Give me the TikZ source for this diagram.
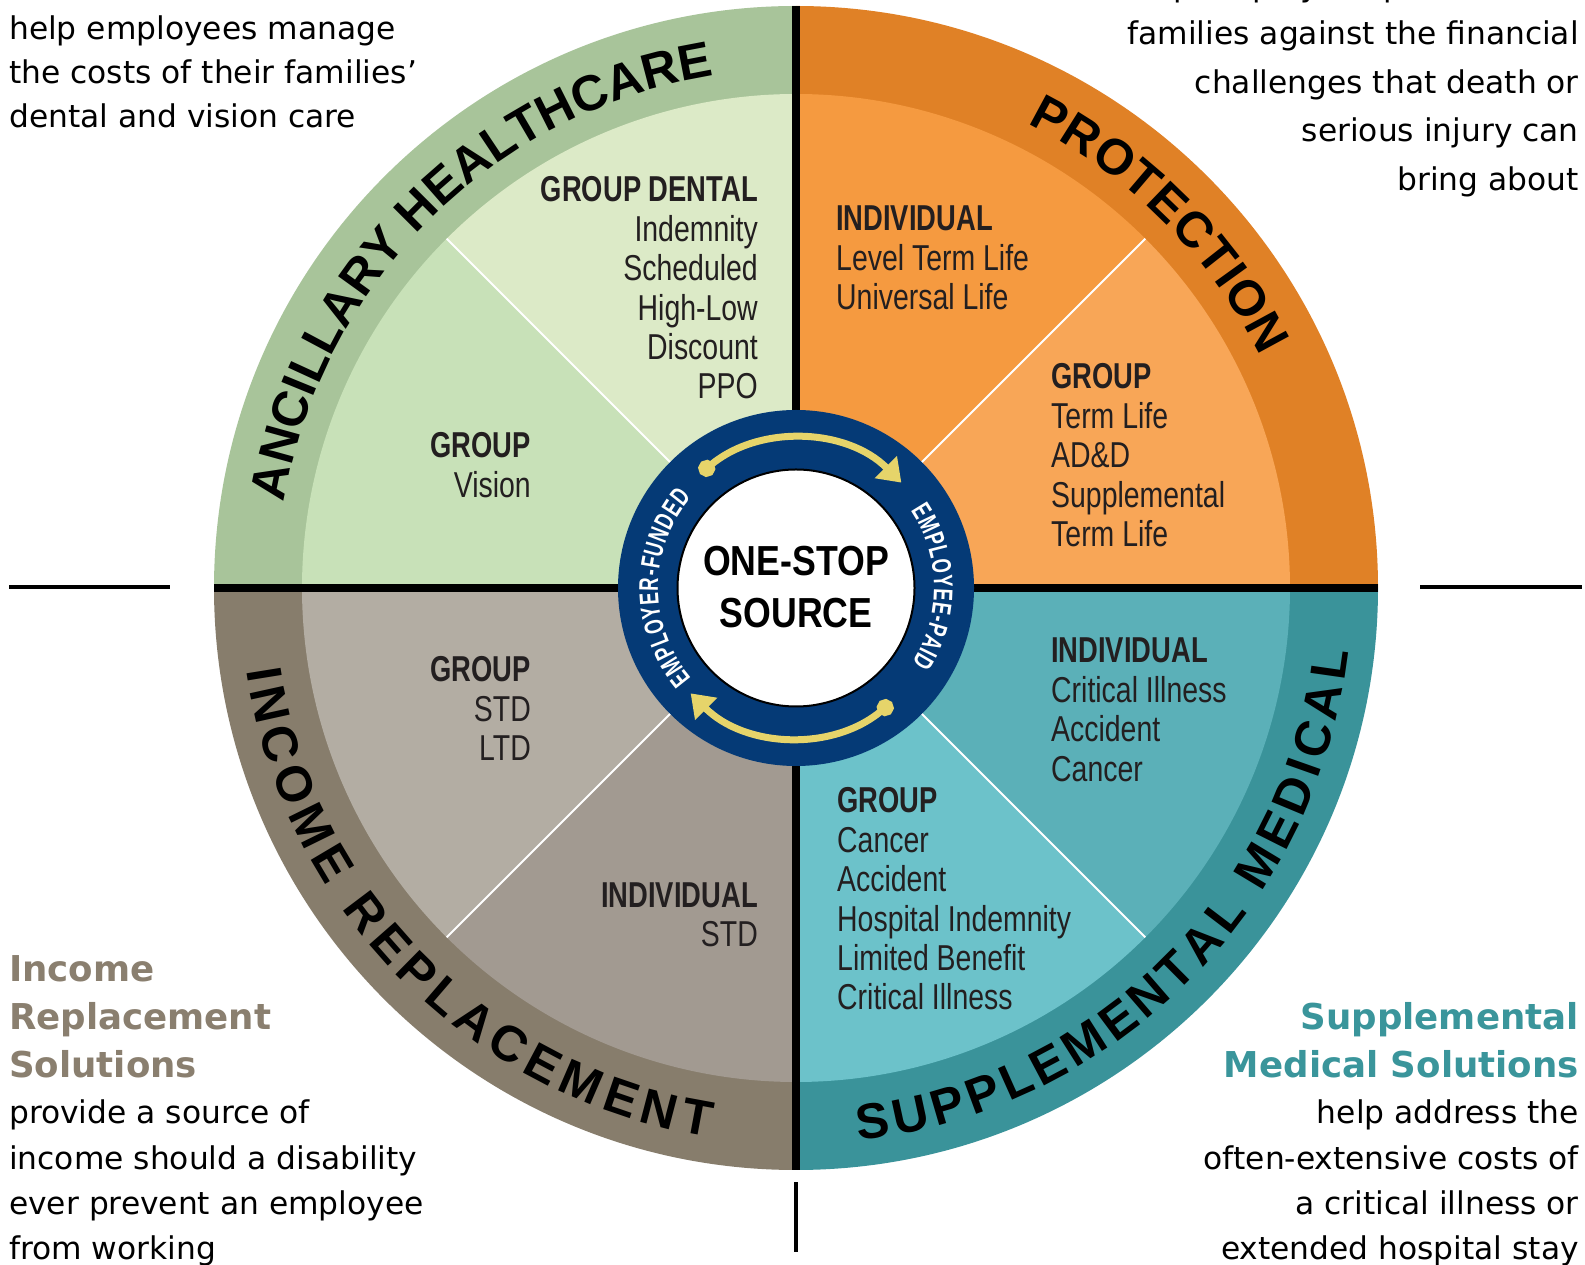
\documentclass[tikz,border=0pt]{standalone}
\usepackage{fontspec}
\setmainfont{DejaVu Sans}
\newfontfamily\bodyfont{DejaVu Sans}
\newfontfamily\condR[FakeStretch=0.79]{Liberation Sans}
\newfontfamily\condB[FakeStretch=0.76]{Liberation Sans}
\newfontfamily\hubfont[FakeStretch=0.85]{Liberation Sans}
\newfontfamily\ringfont[FakeStretch=0.68]{Liberation Sans}
\newfontfamily\bandfont{Liberation Sans}
\usetikzlibrary{decorations.text,arrows.meta}
\definecolor{ancB}{HTML}{A8C49A}
\definecolor{ancD}{HTML}{DCEAC7}
\definecolor{ancV}{HTML}{C8E1B8}
\definecolor{proB}{HTML}{E08126}
\definecolor{proI}{HTML}{F59A40}
\definecolor{proG}{HTML}{F8A657}
\definecolor{supB}{HTML}{3A939A}
\definecolor{supI}{HTML}{5BB0B8}
\definecolor{supG}{HTML}{6CC2CA}
\definecolor{incB}{HTML}{877D6C}
\definecolor{incG}{HTML}{B3ADA3}
\definecolor{incI}{HTML}{A29A91}
\definecolor{navy}{HTML}{053A76}
\definecolor{gold}{HTML}{E6D46A}
\definecolor{txt}{HTML}{231F20}
\definecolor{tealh}{HTML}{3A959B}
\definecolor{taupeh}{HTML}{8A7F6F}
\begin{document}
\begin{tikzpicture}[x=1pt,y=1pt,
  hd/.style={inner sep=0pt,text=txt,font=\condB\bfseries\fontsize{36}{39}\selectfont},
  it/.style={inner sep=0pt,text=txt,font=\condR\fontsize{36}{39}\selectfont},
  body/.style={inner sep=0pt,text=black,font=\bodyfont\fontsize{31.3}{44}\selectfont},
  headT/.style={inner sep=0pt,text=taupeh,font=\bodyfont\bfseries\fontsize{35.6}{48}\selectfont},
  headS/.style={inner sep=0pt,text=tealh,font=\bodyfont\bfseries\fontsize{35.6}{48}\selectfont},
  cross/.style={line width=8pt,black},
  tick/.style={line width=4.5pt,black},
  divider/.style={line width=2pt,white},
  yarrow/.style={gold,line width=7pt,{Circle[length=17pt]}-{Triangle[length=22pt,width=30pt]}},
  bandtext/.style={decorate,decoration={text along path,text align={fit to path},
     text={|\bandfont\bfseries\fontsize{50}{50}\selectfont|#1}}},
  ringtext/.style={decorate,decoration={text along path,text align={fit to path},text color=white,
     text={|\ringfont\bfseries\fontsize{27}{27}\selectfont|#1}}}
]
\useasboundingbox (0,0) rectangle (1585,1264);
\fill[white] (0,0) rectangle (1585,1264);
\coordinate (C) at (796,676);
% quadrant bands
\fill[ancB] (C) -- ([shift={(796,676)}]90:582pt) arc[start angle=90,end angle=180,radius=582pt] -- cycle;
\fill[proB] (C) -- ([shift={(796,676)}]0:582pt) arc[start angle=0,end angle=90,radius=582pt] -- cycle;
\fill[supB] (C) -- ([shift={(796,676)}]270:582pt) arc[start angle=270,end angle=360,radius=582pt] -- cycle;
\fill[incB] (C) -- ([shift={(796,676)}]180:582pt) arc[start angle=180,end angle=270,radius=582pt] -- cycle;
% sub sectors
\fill[ancD] (C) -- ([shift={(796,676)}]90:494pt) arc[start angle=90,end angle=135,radius=494pt] -- cycle;
\fill[ancV] (C) -- ([shift={(796,676)}]135:494pt) arc[start angle=135,end angle=180,radius=494pt] -- cycle;
\fill[proG] (C) -- ([shift={(796,676)}]0:494pt) arc[start angle=0,end angle=45,radius=494pt] -- cycle;
\fill[proI] (C) -- ([shift={(796,676)}]45:494pt) arc[start angle=45,end angle=90,radius=494pt] -- cycle;
\fill[incG] (C) -- ([shift={(796,676)}]180:494pt) arc[start angle=180,end angle=225,radius=494pt] -- cycle;
\fill[incI] (C) -- ([shift={(796,676)}]225:494pt) arc[start angle=225,end angle=270,radius=494pt] -- cycle;
\fill[supG] (C) -- ([shift={(796,676)}]270:494pt) arc[start angle=270,end angle=315,radius=494pt] -- cycle;
\fill[supI] (C) -- ([shift={(796,676)}]315:494pt) arc[start angle=315,end angle=360,radius=494pt] -- cycle;
% white dividers
\foreach \a in {45,135,225,315}
  \draw[divider] ([shift={(796,676)}]\a:170pt) -- ([shift={(796,676)}]\a:494pt);
% black cross
\draw[cross] (214,676) -- (1378,676);
\draw[cross] (796,94) -- (796,1258);
\coordinate (lt1) at (9,677); \coordinate (lt2) at (170,677);
\coordinate (rt1) at (1420,677); \coordinate (rt2) at (1582,677);
\coordinate (bt1) at (796,82); \coordinate (bt2) at (796,12);
\draw[tick] (lt1) -- (lt2);
\draw[tick] (rt1) -- (rt2);
\draw[tick] (bt1) -- (bt2);
% centre
\fill[navy] (C) circle[radius=178pt];
\draw[fill=white,line width=2pt] (C) circle[radius=118.5pt];
\draw[yarrow] ([shift={(796,676)}]130:149pt) arc[start angle=130,end angle=45,radius=149pt];
\draw[yarrow] ([shift={(796,676)}]310:149pt) arc[start angle=310,end angle=225,radius=149pt];
\path[ringtext={EMPLOYER-FUNDED}] ([shift={(796,676)}]221:138pt) arc[start angle=221,end angle=139,radius=138pt];
\path[ringtext={EMPLOYEE-PAID}] ([shift={(796,676)}]34:138pt) arc[start angle=34,end angle=-33,radius=138pt];
\node[inner sep=0pt,align=center,font=\hubfont\bfseries\fontsize{42}{52}\selectfont] (hub) at (796,677) {ONE-STOP\\SOURCE};
% band labels
\path[bandtext={ANCILLARY HEALTHCARE}] ([shift={(796,676)}]170.5:519pt) arc[start angle=170.5,end angle=99.5,radius=519pt];
\path[bandtext={PROTECTION}] ([shift={(796,676)}]63.5:519pt) arc[start angle=63.5,end angle=26.5,radius=519pt];
\path[bandtext={INCOME REPLACEMENT}] ([shift={(796,676)}]188.5:556pt) arc[start angle=188.5,end angle=261,radius=556pt];
\path[bandtext={SUPPLEMENTAL MEDICAL}] ([shift={(796,676)}]276.4:556pt) arc[start angle=276.4,end angle=353.4,radius=556pt];
% sector texts
\node[hd,anchor=base east] (denH) at (758,{1264-202}) {GROUP DENTAL};
\foreach \t [count=\i] in {Indemnity,Scheduled,High-Low,Discount,PPO}
  \node[it,anchor=base east] (den\i) at (758,{1264-202-\i*39.4}) {\t};
\node[hd,anchor=base east] (visH) at (531,{1264-458}) {GROUP};
\node[it,anchor=base east] (vis1) at (531,{1264-497.4}) {Vision};
\node[hd,anchor=base west] (piH) at (836,{1264-231}) {INDIVIDUAL};
\foreach \t [count=\i] in {Level Term Life,Universal Life}
  \node[it,anchor=base west] (pi\i) at (836,{1264-231-\i*39.4}) {\t};
\node[hd,anchor=base west] (pgH) at (1051,{1264-389}) {GROUP};
\foreach \t [count=\i] in {Term Life,AD\&D,Supplemental,Term Life}
  \node[it,anchor=base west] (pg\i) at (1051,{1264-389-\i*39.4}) {\t};
\node[hd,anchor=base west] (siH) at (1051,{1264-663}) {INDIVIDUAL};
\foreach \t [count=\i] in {Critical Illness,Accident,Cancer}
  \node[it,anchor=base west] (si\i) at (1051,{1264-663-\i*39.4}) {\t};
\node[hd,anchor=base west] (sgH) at (837,{1264-813}) {GROUP};
\foreach \t [count=\i] in {Cancer,Accident,Hospital Indemnity,Limited Benefit,Critical Illness}
  \node[it,anchor=base west] (sg\i) at (837,{1264-813-\i*39.4}) {\t};
\node[hd,anchor=base east] (igH) at (531,{1264-682}) {GROUP};
\foreach \t [count=\i] in {STD,LTD}
  \node[it,anchor=base east] (ig\i) at (531,{1264-682-\i*39.4}) {\t};
\node[hd,anchor=base east] (iiH) at (758,{1264-907.5}) {INDIVIDUAL};
\node[it,anchor=base east] (ii1) at (758,{1264-946.9}) {STD};
% outer texts
\foreach \t [count=\i] in {help employees manage,the costs of their families’,dental and vision care}
  \node[body,anchor=base west] (tl\i) at (9,{1264-40-(\i-1)*44}) {\t};
\foreach \t [count=\i] in {help employees protect their,families against the financial,challenges that death or,serious injury can,bring about}
  \node[body,anchor=base east] (tr\i) at (1579,{1264+3.5-(\i-1)*48.5}) {\t};
\foreach \t [count=\i] in {Income,Replacement,Solutions}
  \node[headT,anchor=base west] (blh\i) at (9,{1264-982-(\i-1)*48}) {\t};
\foreach \t [count=\i] in {provide a source of,income should a disability,ever prevent an employee,from working}
  \node[body,anchor=base west] (bl\i) at (9,{1264-1124-(\i-1)*45}) {\t};
\foreach \t [count=\i] in {Supplemental,Medical Solutions}
  \node[headS,anchor=base east] (brh\i) at (1579,{1264-1030-(\i-1)*48}) {\t};
\foreach \t [count=\i] in {help address the,often-extensive costs of,a critical illness or,extended hospital stay}
  \node[body,anchor=base east] (br\i) at (1579,{1264-1124-(\i-1)*45}) {\t};
\end{tikzpicture}
\end{document}
